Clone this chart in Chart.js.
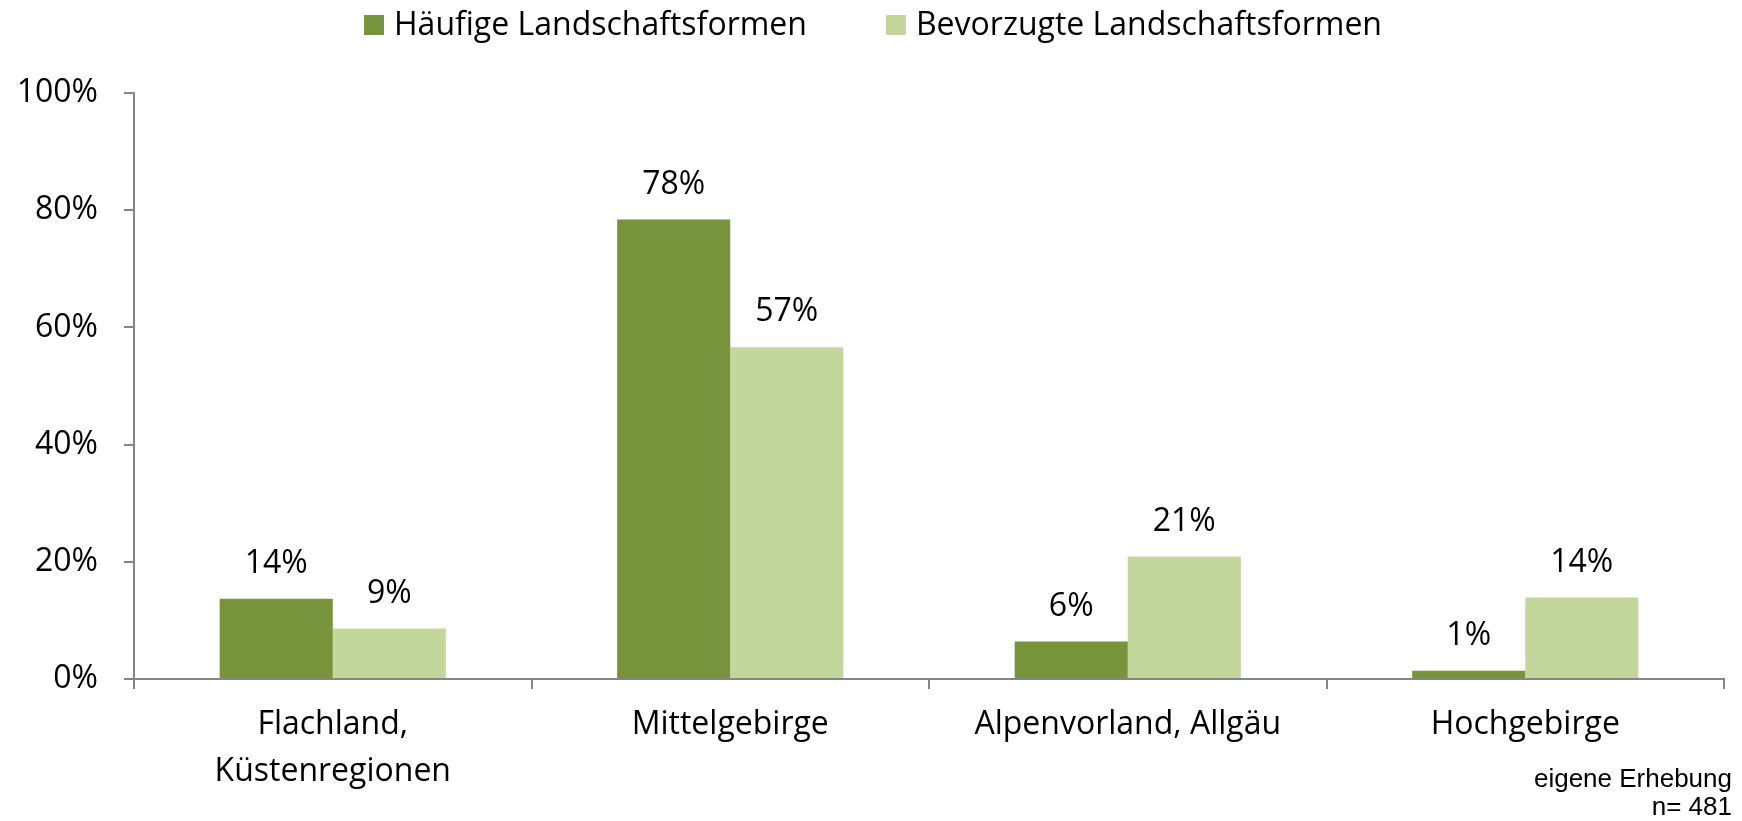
<!DOCTYPE html>
<html lang="de">
<head>
<meta charset="utf-8">
<title>Landschaftsformen</title>
<script src="https://cdn.jsdelivr.net/npm/chart.js@4.4.1/dist/chart.umd.min.js"></script>
<style>
    html, body { margin: 0; padding: 0; background: #ffffff; }
    #grafico { display: block; }
</style>
</head>
<body>
<canvas id="grafico" width="1742" height="821"></canvas>
<script>
// ====================================================================
// DADOS
// ====================================================================
const categorias = [['Flachland,', 'Küstenregionen'], 'Mittelgebirge', 'Alpenvorland, Allgäu', 'Hochgebirge'];
const nomesSeries = ['Häufige Landschaftsformen', 'Bevorzugte Landschaftsformen'];
const haeufige = [13.7, 78.4, 6.4, 1.4];
const bevorzugte = [8.6, 56.6, 20.9, 13.9];
const ticksY = [0, 20, 40, 60, 80, 100];
const notaFonte = ['eigene Erhebung', 'n= 481'];

const corEscura = '#77933C';
const corClara = '#C3D69B';
const corEixo = '#868686';
const FONTE = '"Open Sans", "Noto Sans", sans-serif';

// ====================================================================
// PLUGIN: legenda desenhada à mão (posição igual ao original)
// ====================================================================
const legendaManual = {
    id: 'legendaManual',
    afterDraw(chart) {
        const ctx = chart.ctx;
        ctx.save();
        ctx.font = '32px ' + FONTE;
        ctx.textBaseline = 'middle';
        ctx.textAlign = 'left';
        const caixa = 20, gapTexto = 10, gapItem = 79;
        const itens = chart.data.datasets.map(ds => ({
            texto: ds.label,
            cor: ds.backgroundColor,
            largura: ctx.measureText(ds.label).width
        }));
        const total = itens.reduce((s, it) => s + caixa + gapTexto + it.largura, 0) + gapItem * (itens.length - 1);
        let x = 873 - total / 2;
        const yCentro = 25;
        itens.forEach(it => {
            ctx.fillStyle = it.cor;
            ctx.fillRect(x, yCentro - caixa / 2, caixa, caixa);
            ctx.fillStyle = '#000000';
            ctx.fillText(it.texto, x + caixa + gapTexto, yCentro + 1);
            x += caixa + gapTexto + it.largura + gapItem;
        });
        ctx.restore();
    }
};

// ====================================================================
// PLUGIN: rótulos de valor acima das barras + nota de fonte
// ====================================================================
const rotulosValores = {
    id: 'rotulosValores',
    afterDatasetsDraw(chart) {
        const ctx = chart.ctx;
        ctx.save();
        ctx.font = '32px ' + FONTE;
        ctx.fillStyle = '#000000';
        ctx.textAlign = 'center';
        ctx.textBaseline = 'middle';
        chart.data.datasets.forEach((ds, i) => {
            chart.getDatasetMeta(i).data.forEach((barra, j) => {
                ctx.fillText(Math.round(ds.data[j]) + '%', barra.x, barra.y - 35);
            });
        });

        // nota no canto inferior direito
        ctx.font = '26px "Liberation Sans", Arial, sans-serif';
        ctx.textAlign = 'right';
        ctx.fillText(notaFonte[0], 1732, 780);
        ctx.fillText(notaFonte[1], 1732, 808);
        ctx.restore();
    }
};

// ====================================================================
// GRÁFICO
// ====================================================================
new Chart(document.getElementById('grafico'), {
    type: 'bar',
    data: {
        labels: categorias,
        datasets: [
            { label: nomesSeries[0], data: haeufige, backgroundColor: corEscura },
            { label: nomesSeries[1], data: bevorzugte, backgroundColor: corClara }
        ]
    },
    options: {
        responsive: false,
        animation: false,
        devicePixelRatio: 1,
        layout: { padding: { top: 93, right: 18, bottom: 0, left: 0 } },
        datasets: {
            bar: { categoryPercentage: 0.569, barPercentage: 1.0 }
        },
        plugins: {
            legend: { display: false },
            tooltip: { enabled: false }
        },
        scales: {
            x: {
                offset: true,
                grid: {
                    offset: true,
                    drawOnChartArea: false,
                    drawTicks: true,
                    tickLength: 10,
                    color: corEixo,
                    lineWidth: 2
                },
                border: { color: corEixo, width: 2 },
                ticks: {
                    color: '#000000',
                    padding: 13,
                    maxRotation: 0,
                    autoSkip: false,
                    font: { family: FONTE, size: 32, lineHeight: 1.45 }
                },
                afterFit: (escala) => { escala.height = 142; }
            },
            y: {
                min: 0,
                max: 100,
                afterBuildTicks: (escala) => { escala.ticks = ticksY.map(v => ({ value: v })); },
                grid: {
                    drawOnChartArea: false,
                    drawTicks: true,
                    tickLength: 10,
                    color: corEixo,
                    lineWidth: 2
                },
                border: { color: corEixo, width: 2 },
                ticks: {
                    color: '#000000',
                    padding: 26,
                    font: { family: FONTE, size: 32 },
                    callback: (v) => v + '%'
                },
                afterFit: (escala) => { escala.width = 134; }
            }
        }
    },
    plugins: [legendaManual, rotulosValores]
});
</script>
</body>
</html>
